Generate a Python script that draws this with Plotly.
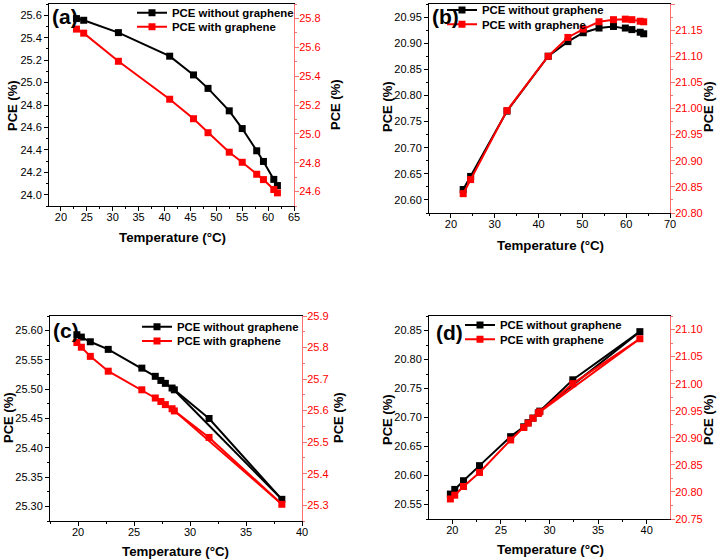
import plotly.graph_objects as go

W, H = 717, 559
FONT = "Arial, Liberation Sans, sans-serif"
RED = "#ff0000"
RED_AX = "#ff7070"

# ---------------- data ----------------
# (a)
a_temp = [23.0, 24.4, 31.1, 41.0, 45.6, 48.4, 52.5, 55.0, 57.8, 59.1, 61.1, 61.8]
a_without = [25.570, 25.555, 25.445, 25.235, 25.068, 24.948, 24.748, 24.590, 24.392, 24.297, 24.137, 24.082]
a_with = [25.726, 25.698, 25.503, 25.240, 25.105, 25.008, 24.873, 24.803, 24.720, 24.683, 24.614, 24.591]
# (b)
b_temp = [22.8, 24.5, 32.8, 42.2, 46.7, 50.2, 53.8, 57.1, 59.8, 61.3, 63.2, 64.0]
b_without = [20.620, 20.645, 20.770, 20.875, 20.903, 20.920, 20.929, 20.932, 20.929, 20.926, 20.921, 20.918]
b_with = [20.837, 20.864, 20.996, 21.100, 21.136, 21.152, 21.166, 21.170, 21.171, 21.170, 21.167, 21.166]
# (c)
c_temp = [19.9, 20.3, 21.1, 22.7, 25.7, 26.9, 27.4, 27.8, 28.4, 28.6, 31.7, 38.2]
c_without = [25.593, 25.589, 25.581, 25.568, 25.536, 25.522, 25.515, 25.510, 25.502, 25.499, 25.450, 25.312]
c_with = [25.816, 25.801, 25.772, 25.725, 25.666, 25.640, 25.629, 25.619, 25.606, 25.599, 25.515, 25.303]
# (d)
d_temp = [19.8, 20.25, 21.15, 22.8, 26.0, 27.35, 27.8, 28.3, 28.85, 29.0, 32.4, 39.3]
d_without = [20.568, 20.576, 20.591, 20.617, 20.667, 20.684, 20.691, 20.699, 20.708, 20.711, 20.765, 20.848]
d_with = [20.787, 20.794, 20.810, 20.836, 20.896, 20.919, 20.927, 20.936, 20.945, 20.948, 21.000, 21.083]

labels = ["(a)", "(b)", "(c)", "(d)"]
name_without = "PCE without graphene"
name_with = "PCE with graphene"
x_title = "Temperature (°C)"
y_title = "PCE (%)"

# ---------------- layout helpers ----------------
def px_x(p):
    return p / W

def px_y(p):
    return 1 - p / H

panels = [
    dict(temp=a_temp, wo=a_without, wi=a_with, ret=None,
         box=(49, 294, 4, 206), xr=[17.7, 65], xd=5,
         yl=[23.9, 25.7], yld=0.2, ylf=".1f", yr=[24.5, 25.9], yrd=0.2, yrf=".1f",
         lab=(50, 3), leg=(172, 12.7, 26.7),
         xt=(172, 237), ytl=(12, 105), ytr=(335, 105)),
    dict(temp=b_temp, wo=b_without, wi=b_with, ret=None,
         box=(429, 670, 4, 213), xr=[15, 70], xd=10,
         yl=[20.575, 20.975], yld=0.05, ylf=".2f", yr=[20.8, 21.2], yrd=0.05, yrf=".2f",
         lab=(430, 3), leg=(482, 10, 24.3),
         xt=(550, 245), ytl=(387, 107), ytr=(708, 107)),
    dict(temp=c_temp, wo=c_without, wi=c_with, ret=8,
         box=(50, 302, 316, 521), xr=[17.5, 40], xd=5,
         yl=[25.275, 25.625], yld=0.05, ylf=".2f", yr=[25.25, 25.9], yrd=0.1, yrf=".1f",
         lab=(51, 317), leg=(177, 326.7, 341),
         xt=(175, 551), ytl=(8, 418), ytr=(338, 418)),
    dict(temp=d_temp, wo=d_without, wi=d_with, ret=9,
         box=(429, 670, 316, 519), xr=[17.6, 42.4], xd=5,
         yl=[20.525, 20.875], yld=0.05, ylf=".2f", yr=[20.75, 21.125], yrd=0.05, yrf=".2f",
         lab=(434, 319), leg=(500, 325, 339.3),
         xt=(550, 549), ytl=(387, 420), ytr=(708, 420)),
]

fig = go.Figure()
layout = dict(
    width=W, height=H, margin=dict(l=0, r=0, t=0, b=0, autoexpand=False),
    paper_bgcolor="white", plot_bgcolor="white",
    font=dict(family=FONT, size=11, color="black"),
    annotations=[],
)

TICK = 11
tickfont = dict(family=FONT, size=TICK, color="black")


def add_text(text, x, y, angle=0, size=13.3):
    layout["annotations"].append(dict(
        text=f"<b>{text}</b>", x=px_x(x), y=px_y(y), xref="paper", yref="paper",
        xanchor="center", yanchor="middle", showarrow=False, textangle=angle,
        font=dict(family=FONT, size=size, color="black"),
    ))


for i, p in enumerate(panels):
    n = i + 1
    xa = "x" if n == 1 else f"x{n}"
    yl_id = 2 * n - 1
    yr_id = 2 * n
    yla = "y" if yl_id == 1 else f"y{yl_id}"
    yra = f"y{yr_id}"
    leg1 = "legend" if n == 1 else f"legend{2 * n - 1}"
    leg2 = f"legend{2 * n}"
    x0, x1, y0, y1 = p["box"]

    layout["xaxis" if n == 1 else f"xaxis{n}"] = dict(
        domain=[px_x(x0), px_x(x1)], anchor=yla, range=p["xr"], dtick=p["xd"], tick0=0,
        automargin=False,
        showline=True, linecolor="black", linewidth=1, mirror=True,
        ticks="outside", ticklen=4, tickcolor="black", tickwidth=1, ticklabelstandoff=-3,
        minor=dict(dtick=p["xd"] / 2, tick0=0, ticks="outside", ticklen=2, tickcolor="black"),
        showgrid=False, zeroline=False, tickfont=tickfont,
    )
    layout["yaxis" if yl_id == 1 else f"yaxis{yl_id}"] = dict(
        domain=[px_y(y1), px_y(y0)], anchor=xa, range=p["yl"], dtick=p["yld"], tick0=0,
        automargin=False,
        tickformat=p["ylf"], showline=True, linecolor="black", linewidth=1,
        ticks="outside", ticklen=4, tickcolor="black",
        minor=dict(dtick=p["yld"] / 2, tick0=0, ticks="outside", ticklen=2, tickcolor="black"),
        showgrid=False, zeroline=False, tickfont=tickfont,
    )
    layout[f"yaxis{yr_id}"] = dict(
        overlaying=yla, side="right", anchor=xa, range=p["yr"], dtick=p["yrd"], tick0=0,
        automargin=False,
        tickformat=p["yrf"], showline=True, linecolor=RED_AX, linewidth=1,
        ticks="outside", ticklen=4, tickcolor=RED_AX, ticklabelstandoff=-2,
        minor=dict(dtick=p["yrd"] / 2, tick0=0, ticks="outside", ticklen=2, tickcolor=RED_AX),
        showgrid=False, zeroline=False, tickfont=dict(family=FONT, size=TICK, color=RED),
    )
    lx, ly1, ly2 = p["leg"]
    for lg, ly in ((leg1, ly1), (leg2, ly2)):
        layout[lg] = dict(
            x=px_x(lx - 40), y=px_y(ly), xanchor="left", yanchor="middle",
            bgcolor="rgba(0,0,0,0)", borderwidth=0, itemwidth=30, tracegroupgap=0,
            font=dict(family=FONT, size=11.4, color="black", weight="bold"),
        )
    ax, ay = p["lab"]
    layout["annotations"].append(dict(
        text=f"<b>{labels[i]}</b>", x=px_x(ax), y=px_y(ay), xref="paper", yref="paper",
        xanchor="left", yanchor="top", showarrow=False,
        font=dict(family=FONT, size=21, color="black"),
    ))
    add_text(x_title, *p["xt"])
    add_text(y_title, *p["ytl"], angle=-90, size=13)
    add_text(y_title, *p["ytr"], angle=-90, size=13)

    fig.add_trace(go.Scatter(
        x=p["temp"], y=p["wo"], xaxis=xa, yaxis=yla, name=name_without, legend=leg1,
        mode="lines+markers", line=dict(color="black", width=2),
        marker=dict(symbol="square", size=7, color="black"),
    ))
    fig.add_trace(go.Scatter(
        x=p["temp"], y=p["wi"], xaxis=xa, yaxis=yra, name=name_with, legend=leg2,
        mode="lines+markers", line=dict(color=RED, width=2),
        marker=dict(symbol="square", size=7, color=RED),
    ))
    if p["ret"] is not None:
        k = p["ret"]
        fig.add_trace(go.Scatter(
            x=[p["temp"][-1], p["temp"][k]], y=[p["wo"][-1], p["wo"][k]],
            xaxis=xa, yaxis=yla, mode="lines", showlegend=False, hoverinfo="skip",
            line=dict(color="black", width=2),
        ))
        fig.add_trace(go.Scatter(
            x=[p["temp"][-1], p["temp"][k]], y=[p["wi"][-1], p["wi"][k]],
            xaxis=xa, yaxis=yra, mode="lines", showlegend=False, hoverinfo="skip",
            line=dict(color=RED, width=2),
        ))

fig.update_layout(**layout)
fig.write_html(
    "out.html",
    config={"displayModeBar": False},
    post_script="document.body.style.margin='0';document.body.style.overflow='hidden';",
)
